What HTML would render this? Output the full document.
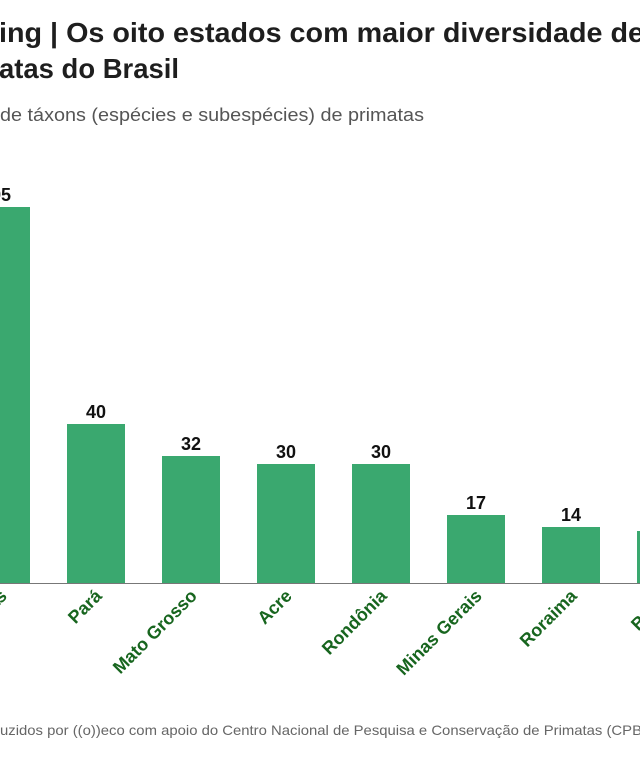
<!DOCTYPE html>
<html><head><meta charset="utf-8"><style>
html,body{margin:0;padding:0;background:#fff;width:640px;height:765px;overflow:hidden}
svg{display:block}
</style></head><body>
<svg width="640" height="765" viewBox="0 0 640 765" xmlns="http://www.w3.org/2000/svg" font-family="Liberation Sans, sans-serif">
<text x="-1" y="42" font-size="28" font-weight="bold" fill="#1e1e1e" textLength="645" lengthAdjust="spacingAndGlyphs">ing | Os oito estados com maior diversidade de</text>
<text x="-1" y="78" font-size="28" font-weight="bold" fill="#1e1e1e" textLength="180" lengthAdjust="spacingAndGlyphs">atas do Brasil</text>
<text x="0" y="121" font-size="18" fill="#555" textLength="424" lengthAdjust="spacingAndGlyphs">de táxons (espécies e subespécies) de primatas</text>
<g fill="#3aa86f">
<rect x="-28" y="207" width="58" height="376"/>
<rect x="67" y="424" width="58" height="159"/>
<rect x="162" y="456" width="58" height="127"/>
<rect x="257" y="464" width="58" height="119"/>
<rect x="352" y="464" width="58" height="119"/>
<rect x="447" y="515" width="58" height="68"/>
<rect x="542" y="527" width="58" height="56"/>
<rect x="637" y="531" width="58" height="52"/>
</g>
<line x1="0" y1="583.5" x2="640" y2="583.5" stroke="#777" stroke-width="1"/>
<g font-size="18" font-weight="bold" fill="#111" text-anchor="middle">
<text x="1" y="201">95</text>
<text x="96" y="418">40</text>
<text x="191" y="450">32</text>
<text x="286" y="458">30</text>
<text x="381" y="458">30</text>
<text x="476" y="509">17</text>
<text x="571" y="521">14</text>
</g>
<g font-size="18" font-weight="bold" fill="#17651e" text-anchor="end">
<text transform="translate(8,597) rotate(-45)">Amazonas</text>
<text transform="translate(103,597) rotate(-45)">Pará</text>
<text transform="translate(198,597) rotate(-45)">Mato Grosso</text>
<text transform="translate(293,597) rotate(-45)">Acre</text>
<text transform="translate(388,597) rotate(-45)">Rondônia</text>
<text transform="translate(483,597) rotate(-45)">Minas Gerais</text>
<text transform="translate(578,597) rotate(-45)">Roraima</text>
<text transform="translate(673,597) rotate(-45)">Bahia</text>
</g>
<text x="0" y="735" font-size="14" fill="#666" textLength="642" lengthAdjust="spacingAndGlyphs">uzidos por ((o))eco com apoio do Centro Nacional de Pesquisa e Conservação de Primatas (CPB</text>
</svg>
</body></html>
